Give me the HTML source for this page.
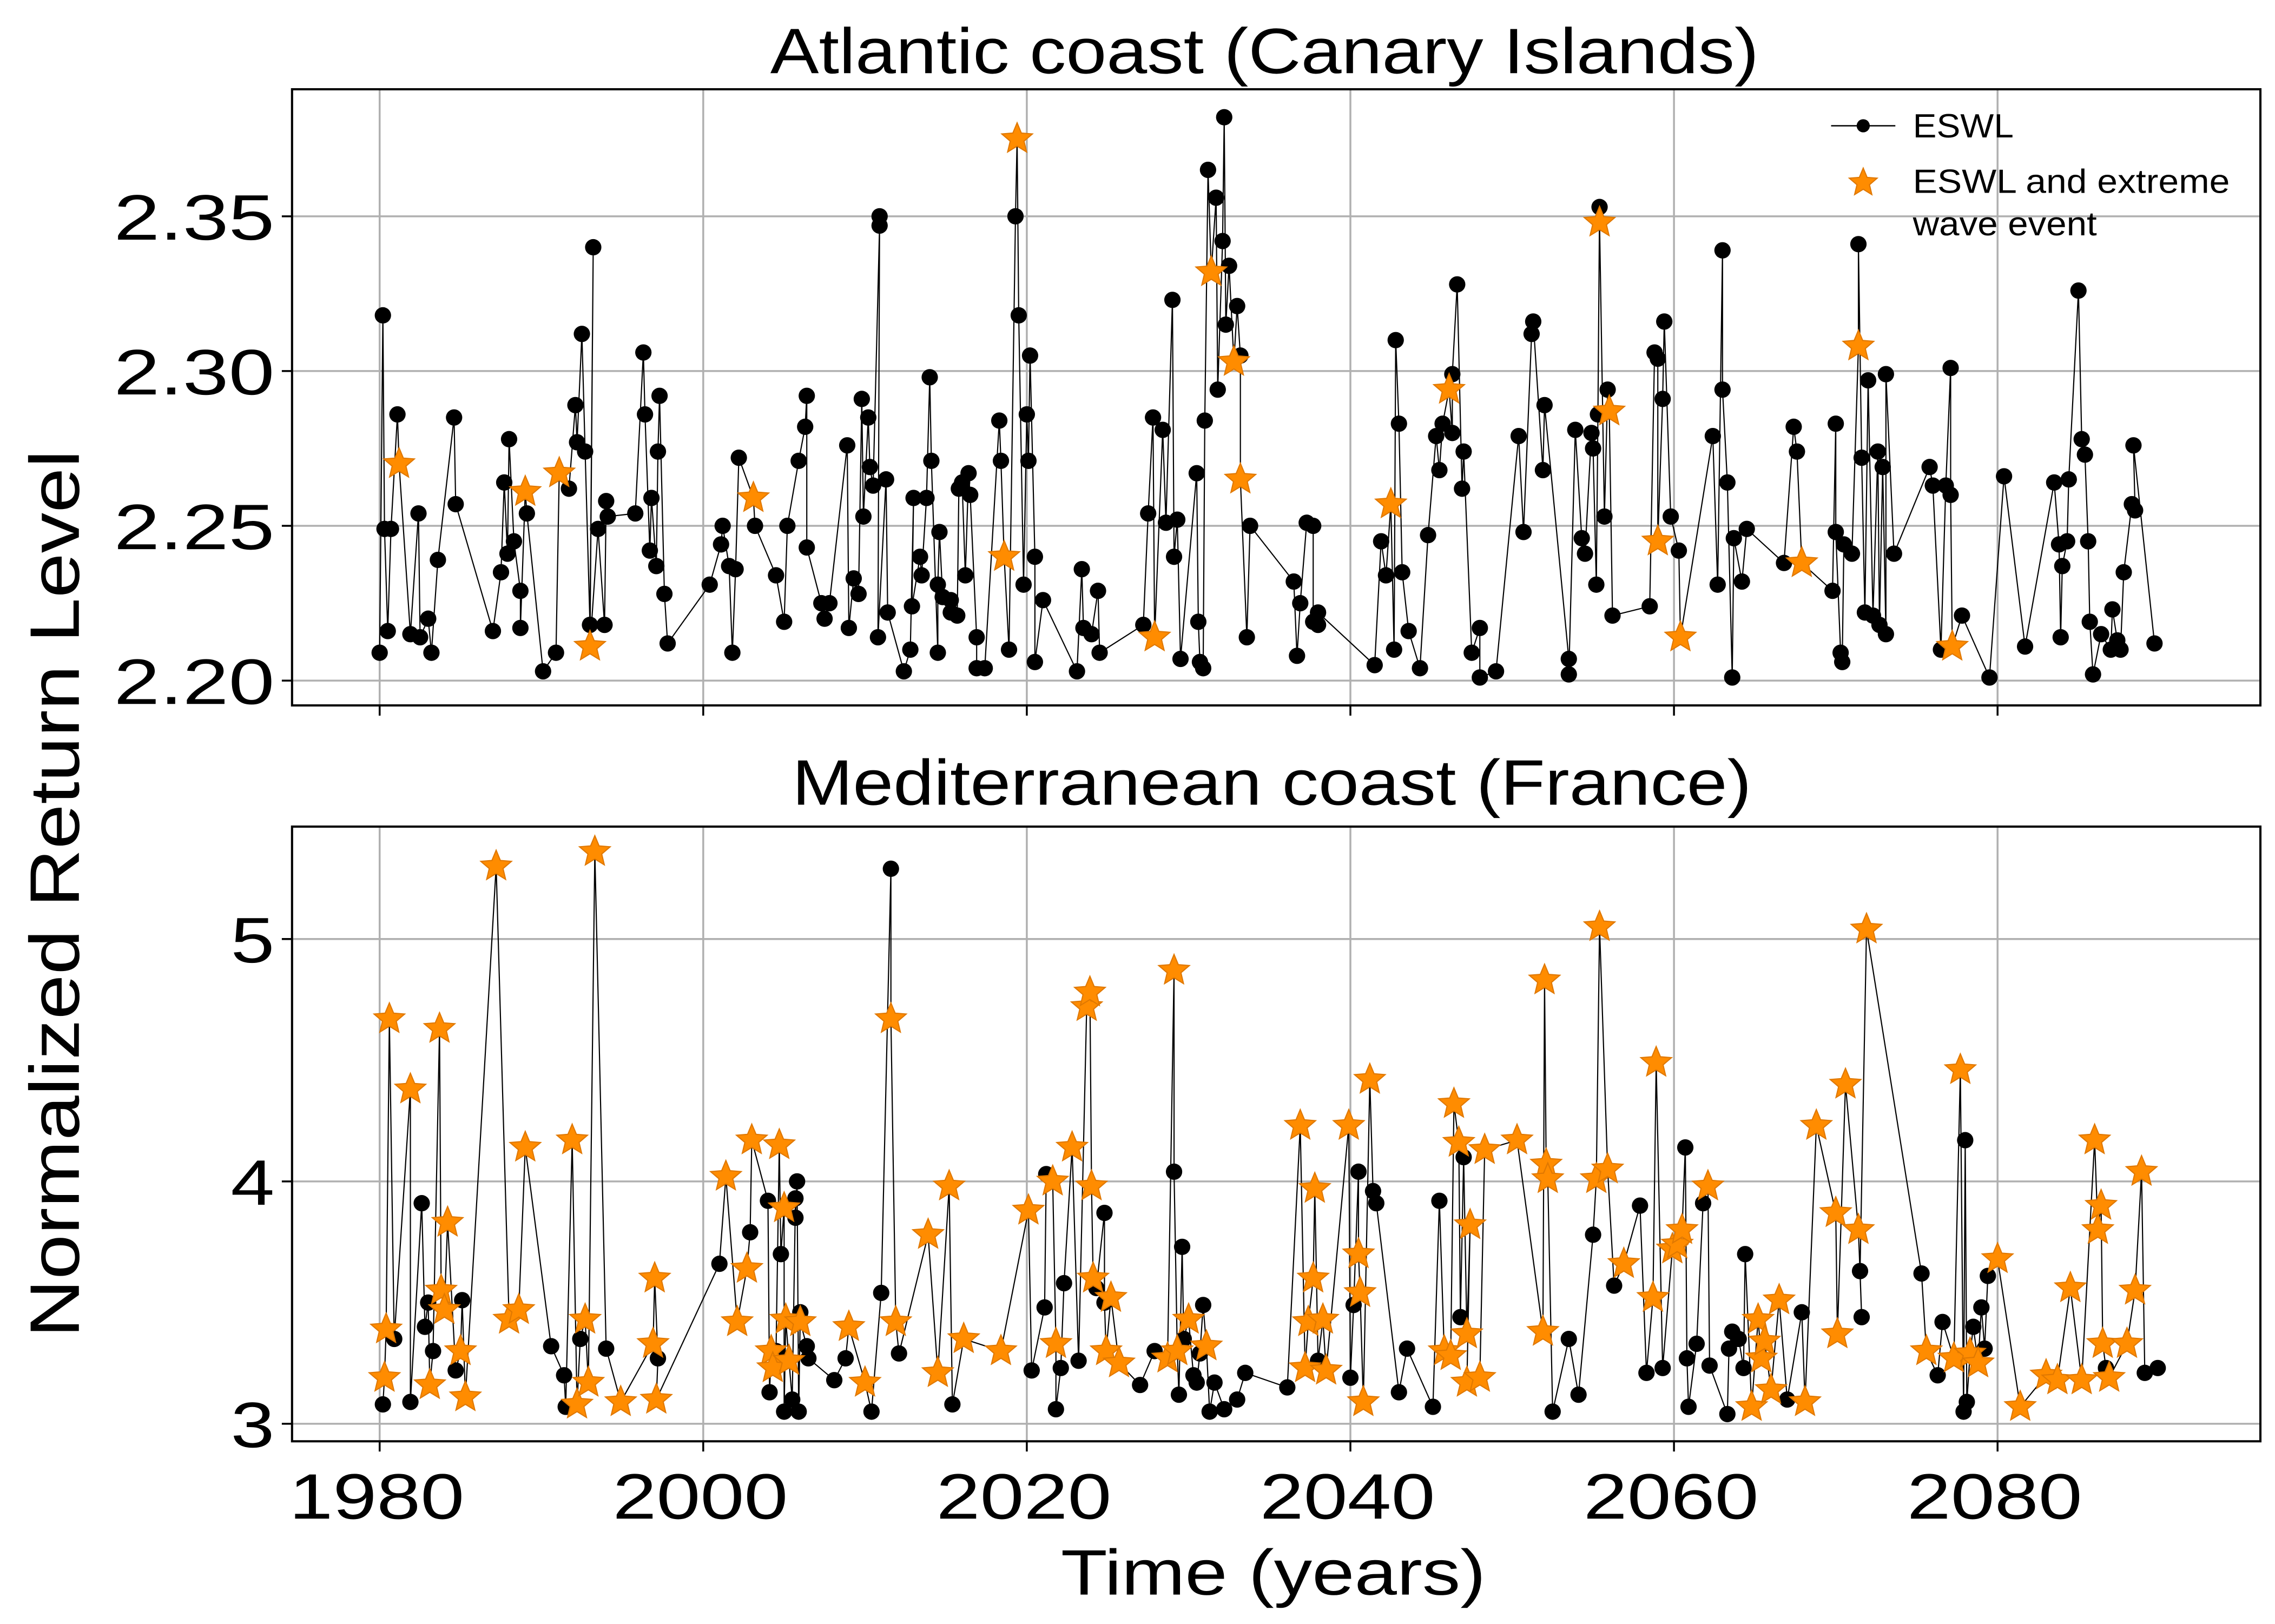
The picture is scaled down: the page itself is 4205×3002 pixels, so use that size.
<!DOCTYPE html>
<html><head><meta charset="utf-8"><style>
html,body{margin:0;padding:0;background:#fff}
svg{display:block}
text{font-family:"Liberation Sans",sans-serif;fill:#000}
</style></head><body>
<svg id="chart" width="4205" height="3002" viewBox="0 0 1558 1112" xmlns="http://www.w3.org/2000/svg">
<rect width="1558" height="1112" fill="#fff"/>
<g id="top"></g>
<g id="bot"></g>
<text x="866" y="50" font-size="44" text-anchor="middle" textLength="677" lengthAdjust="spacingAndGlyphs">Atlantic coast (Canary Islands)</text>
<text x="871" y="551" font-size="44" text-anchor="middle" textLength="657" lengthAdjust="spacingAndGlyphs">Mediterranean coast (France)</text>
<text x="872" y="1092" font-size="44" text-anchor="middle" textLength="291" lengthAdjust="spacingAndGlyphs">Time (years)</text>
<text transform="translate(54,612) rotate(-90)" font-size="48" text-anchor="middle" textLength="608" lengthAdjust="spacingAndGlyphs">Normalized Return Level</text>
<g>
<line x1="1254" y1="86" x2="1298" y2="86" stroke="#000" stroke-width="0.9"/>
<circle cx="1276" cy="86" r="4.5" fill="#000"/>
<text x="1310" y="94" font-size="23" textLength="69" lengthAdjust="spacingAndGlyphs">ESWL</text>
<polygon id="legstar" fill="#FF8C00" stroke="#E07800" stroke-width="0.8"/>
<text x="1310" y="132" font-size="23" textLength="217" lengthAdjust="spacingAndGlyphs">ESWL and extreme</text>
<text x="1310" y="161" font-size="23" textLength="126" lengthAdjust="spacingAndGlyphs">wave event</text>
</g>
</svg>
<script>
const topYears=[1980.0,1980.2,1980.3,1980.5,1980.7,1981.1,1981.2,1981.9,1982.4,1982.5,1983.0,1983.2,1983.6,1984.6,1984.7,1987.0,1987.5,1987.7,1987.9,1988.0,1988.3,1988.7,1988.7,1989.0,1989.1,1990.1,1990.9,1991.1,1991.7,1992.1,1992.2,1992.5,1992.7,1993.0,1993.2,1993.0,1993.5,1993.9,1994.0,1994.1,1995.8,1996.3,1996.4,1996.7,1996.8,1997.1,1997.2,1997.3,1997.6,1997.8,2000.4,2001.1,2001.2,2001.6,2001.8,2002.0,2002.2,2003.1,2003.2,2004.5,2005.0,2005.2,2005.9,2006.3,2006.4,2006.4,2007.3,2007.5,2007.8,2008.9,2009.0,2009.3,2009.6,2009.8,2009.9,2010.2,2010.3,2010.5,2010.9,2010.9,2010.8,2011.3,2011.4,2012.4,2012.8,2013.0,2012.9,2013.4,2013.5,2013.8,2014.0,2014.1,2014.5,2014.5,2014.6,2014.8,2015.3,2015.3,2015.7,2015.8,2016.0,2016.2,2016.4,2016.5,2016.9,2016.9,2017.4,2018.3,2018.4,2018.6,2018.9,2019.3,2019.4,2019.5,2019.8,2020.0,2020.1,2020.2,2020.5,2020.5,2021.0,2023.1,2023.4,2023.5,2024.0,2024.4,2024.5,2027.2,2027.5,2027.8,2027.9,2028.4,2028.6,2029.0,2029.1,2029.3,2029.5,2030.5,2030.6,2030.7,2030.9,2031.0,2031.2,2031.4,2031.7,2031.8,2032.1,2032.2,2032.3,2032.5,2032.8,2033.0,2033.2,2033.2,2033.6,2033.8,2036.5,2036.7,2036.9,2037.3,2037.7,2037.7,2038.0,2038.0,2041.5,2041.9,2042.2,2042.5,2042.7,2042.8,2043.0,2043.2,2043.6,2044.3,2044.8,2045.3,2045.5,2045.7,2046.1,2046.3,2046.3,2046.6,2046.9,2047.0,2047.5,2048.0,2048.0,2049.0,2050.4,2050.7,2051.2,2051.3,2051.9,2052.0,2053.5,2053.5,2053.9,2054.3,2054.5,2054.9,2055.0,2055.2,2055.3,2055.4,2055.4,2055.7,2055.9,2056.0,2056.2,2058.5,2058.8,2059.0,2059.0,2059.3,2059.4,2059.8,2060.3,2060.4,2062.4,2062.7,2063.0,2063.0,2063.3,2063.6,2063.7,2064.2,2064.5,2066.8,2067.4,2067.6,2067.9,2069.8,2070.0,2070.0,2070.3,2070.4,2070.5,2071.0,2071.4,2071.4,2071.6,2071.8,2072.0,2072.3,2072.6,2072.7,2072.9,2073.1,2073.1,2073.6,2075.8,2076.0,2076.5,2076.8,2077.1,2077.1,2077.2,2077.8,2079.5,2080.4,2081.7,2083.5,2083.8,2083.9,2084.0,2084.3,2084.4,2085.0,2085.2,2085.4,2085.6,2085.7,2085.9,2086.4,2087.0,2087.1,2087.4,2087.6,2087.8,2088.3,2088.5,2088.4,2089.7];
const topValues=[2.209,2.318,2.249,2.216,2.249,2.286,2.270,2.215,2.254,2.214,2.220,2.209,2.239,2.285,2.257,2.216,2.235,2.264,2.241,2.278,2.245,2.229,2.217,2.261,2.254,2.203,2.209,2.267,2.262,2.289,2.277,2.312,2.274,2.218,2.340,2.211,2.249,2.218,2.258,2.253,2.254,2.306,2.286,2.242,2.259,2.237,2.274,2.292,2.228,2.212,2.231,2.244,2.250,2.237,2.209,2.236,2.272,2.259,2.250,2.234,2.219,2.250,2.271,2.282,2.292,2.243,2.225,2.220,2.225,2.276,2.217,2.233,2.228,2.291,2.253,2.285,2.269,2.263,2.347,2.350,2.214,2.265,2.222,2.203,2.210,2.259,2.224,2.240,2.234,2.259,2.298,2.271,2.209,2.231,2.248,2.227,2.226,2.222,2.221,2.262,2.264,2.234,2.267,2.260,2.214,2.204,2.204,2.284,2.271,2.240,2.210,2.350,2.375,2.318,2.231,2.286,2.271,2.305,2.240,2.206,2.226,2.203,2.236,2.217,2.215,2.229,2.209,2.218,2.254,2.285,2.214,2.281,2.251,2.323,2.240,2.252,2.207,2.267,2.219,2.206,2.204,2.284,2.365,2.332,2.356,2.294,2.342,2.382,2.315,2.334,2.303,2.321,2.305,2.265,2.214,2.250,2.232,2.208,2.225,2.251,2.250,2.219,2.218,2.222,2.205,2.245,2.234,2.257,2.210,2.310,2.283,2.235,2.216,2.204,2.247,2.279,2.268,2.283,2.294,2.280,2.299,2.328,2.262,2.274,2.209,2.217,2.201,2.203,2.279,2.248,2.312,2.316,2.268,2.289,2.207,2.202,2.281,2.246,2.241,2.280,2.275,2.231,2.286,2.353,2.348,2.253,2.294,2.287,2.221,2.224,2.306,2.304,2.245,2.291,2.316,2.253,2.242,2.214,2.279,2.231,2.339,2.294,2.264,2.201,2.246,2.232,2.249,2.238,2.282,2.274,2.238,2.229,2.283,2.248,2.209,2.206,2.244,2.241,2.308,2.341,2.272,2.222,2.297,2.221,2.274,2.218,2.269,2.215,2.299,2.241,2.269,2.263,2.210,2.263,2.301,2.260,2.211,2.221,2.201,2.266,2.211,2.264,2.244,2.214,2.237,2.245,2.265,2.326,2.278,2.273,2.245,2.219,2.202,2.215,2.210,2.223,2.213,2.210,2.235,2.257,2.255,2.276,2.212];
const topStarIdx=[6,23,27,35,57,109,112,130,143,150,153,167,178,204,207,212,217,230,238,256];

const botYears=[1980.2,1980.3,1980.4,1980.6,1980.9,1981.9,1981.9,1982.6,1982.8,1983.0,1983.1,1983.3,1983.7,1983.8,1984.0,1984.2,1984.7,1985.0,1985.1,1985.3,1987.2,1988.0,1988.6,1989.0,1990.6,1991.4,1991.5,1991.9,1992.2,1992.4,1992.7,1992.9,1993.3,1994.0,1994.9,1996.9,1997.0,1997.2,1997.1,2001.0,2001.4,2002.1,2002.7,2002.9,2003.0,2004.0,2004.1,2004.2,2004.3,2004.5,2004.7,2004.8,2005.0,2005.0,2005.1,2005.3,2005.5,2005.7,2005.7,2005.8,2005.9,2006.0,2006.0,2006.4,2006.5,2008.1,2008.8,2009.0,2010.0,2010.4,2011.0,2011.6,2011.6,2011.9,2012.1,2013.9,2014.5,2015.2,2015.4,2016.1,2018.4,2020.1,2020.3,2021.1,2021.2,2021.6,2021.8,2021.8,2022.1,2022.3,2022.8,2023.2,2023.7,2023.9,2024.0,2024.1,2024.3,2024.8,2024.8,2024.9,2025.2,2025.7,2027.0,2027.9,2028.7,2029.1,2029.1,2029.3,2029.4,2029.6,2029.7,2030.0,2030.3,2030.5,2030.7,2030.9,2031.1,2031.3,2031.6,2032.2,2033.0,2033.5,2036.1,2036.9,2037.2,2037.4,2037.7,2037.8,2038.0,2038.3,2038.5,2039.9,2040.0,2040.2,2040.5,2040.5,2040.6,2040.8,2041.2,2041.4,2041.6,2043.0,2043.5,2045.1,2045.5,2045.8,2046.2,2046.4,2046.7,2046.8,2047.0,2047.2,2047.4,2047.2,2048.0,2048.3,2050.3,2051.9,2052.0,2052.1,2052.2,2052.5,2053.5,2054.1,2055.0,2055.2,2055.4,2055.9,2056.3,2056.9,2057.9,2058.3,2058.7,2058.9,2059.3,2059.9,2060.2,2060.5,2060.7,2060.8,2060.9,2061.4,2061.8,2062.1,2062.2,2063.3,2063.4,2063.6,2064.0,2064.3,2064.4,2064.8,2065.2,2065.4,2065.6,2066.0,2066.5,2067.0,2067.9,2068.1,2068.8,2070.0,2070.1,2070.6,2071.4,2071.6,2071.5,2071.9,2075.3,2075.6,2076.3,2076.6,2077.3,2077.7,2077.9,2078.0,2078.1,2078.3,2078.5,2078.8,2079.0,2079.2,2079.4,2080.0,2081.4,2083.0,2083.7,2084.5,2085.2,2086.0,2086.2,2086.4,2086.5,2086.7,2086.9,2088.0,2088.5,2088.9,2089.1,2089.9];
const botValues=[3.08,3.19,3.39,4.67,3.35,4.38,3.09,3.91,3.40,3.50,3.16,3.30,4.63,3.55,3.47,3.83,3.22,3.30,3.51,3.11,5.30,3.43,3.47,4.14,3.32,3.20,3.07,4.17,3.08,3.35,3.43,3.17,5.36,3.31,3.09,3.33,3.60,3.27,3.10,3.66,4.02,3.42,3.64,3.79,4.17,3.92,3.13,3.30,3.23,3.30,4.15,3.70,3.89,3.05,3.43,3.26,3.10,3.93,3.85,4.00,3.05,3.46,3.42,3.32,3.27,3.18,3.27,3.40,3.17,3.05,3.54,5.29,4.67,3.42,3.29,3.78,3.21,3.98,3.08,3.35,3.30,3.88,3.22,3.48,4.03,4.00,3.33,3.06,3.23,3.58,4.14,3.26,4.72,4.78,3.98,3.60,3.56,3.87,3.50,3.30,3.52,3.25,3.16,3.30,3.27,4.87,4.04,3.30,3.12,3.73,3.35,3.43,3.20,3.17,3.29,3.49,3.32,3.05,3.17,3.06,3.10,3.21,3.15,4.23,3.23,3.42,3.60,3.97,3.26,3.43,3.22,4.23,3.19,3.49,4.04,3.70,3.54,3.09,4.42,3.96,3.91,3.13,3.31,3.07,3.92,3.30,3.28,4.32,4.16,3.44,4.10,3.37,3.82,3.17,3.19,4.13,4.17,3.38,4.83,4.07,4.01,3.05,3.35,3.12,3.78,4.01,5.05,4.05,3.57,3.66,3.90,3.21,3.52,4.49,3.23,3.72,3.74,3.80,4.14,3.27,3.07,3.33,3.91,3.98,3.24,3.04,3.31,3.38,3.35,3.23,3.70,3.07,3.43,3.27,3.34,3.14,3.51,3.10,3.46,3.09,4.23,3.87,3.37,4.40,3.80,3.44,3.63,5.04,3.62,3.30,3.20,3.42,3.27,4.46,3.05,4.17,3.09,3.29,3.40,3.25,3.48,3.31,3.61,3.68,3.07,3.20,3.18,3.56,3.18,4.17,3.80,3.90,3.33,3.23,3.19,3.33,3.55,4.04,3.21,3.23];
const botStar=[0,1,1,1,0,1,0,0,0,0,1,0,1,1,1,1,0,1,0,1,1,1,1,1,0,0,0,1,1,0,1,1,1,0,1,1,1,0,1,
0,1,1,1,0,1,0,0,1,1,
0,1,0,1,0,1,1,0,0,0,
0,0,0,1,0,0,0,0,1,1,
0,0,0,1,1,0,1,1,1,0,
1,1,1,0,0,0,1,1,0,0,
0,1,0,1,1,1,1,0,0,0,
1,1,1,0,0,1,1,0,1,0,
0,0,1,0,0,0,0,1,0,0,
0,0,0,0,1,1,1,1,1,0,
1,1,1,0,0,0,1,1,1,1,
0,0,0,0,0,0,1,1,1,1,
0,0,1,1,1,1,1,1,1,1,
1,1,0,0,0,0,1,1,1,0,
1,0,0,1,1,0,1,1,1,0,
0,0,0,0,1,0,0,0,0,0,
0,0,1,1,1,1,1,1,0,0,
1,1,1,1,1,1,0,0,1,0,
1,0,0,1,1,0,0,0,1,0,
1,0,0,0,1,1,1,1,1,1,
1,1,1,1,0,1,1,1,1,0,0];

const xTicks=[1980,2000,2020,2040,2060,2080];
const topYTicks=[2.20,2.25,2.30,2.35];
const topYLabels=["2.20","2.25","2.30","2.35"];
const botYTicks=[3,4,5];
const botYLabels=["3","4","5"];

const NS="http://www.w3.org/2000/svg";
const L=200,R=1548;
const xs=y=>260+(y-1980)*(221.6/20);
function mk(tag,attrs,parent){const e=document.createElementNS(NS,tag);for(const k in attrs)e.setAttribute(k,attrs[k]);parent.appendChild(e);return e;}
function starPts(cx,cy,ro){const ri=ro*0.45;let p=[];for(let i=0;i<10;i++){const a=-Math.PI/2+i*Math.PI/5;const r=i%2?ri:ro;p.push((cx+r*Math.cos(a)).toFixed(2)+","+(cy+r*Math.sin(a)).toFixed(2));}return p.join(" ");}
document.getElementById('legstar').setAttribute('points',starPts(1276,125,10));

function panel(g,top,bot,ys,yTicks,yLabels,years,vals,isStar,showX,nm){
  xTicks.forEach(t=>{const l=mk('line',{x1:xs(t),x2:xs(t),y1:top,y2:bot,stroke:'#b0b0b0','stroke-width':1.3},g);
    
    
    const tk=mk('line',{x1:xs(t),x2:xs(t),y1:bot,y2:bot+7,stroke:'#000','stroke-width':1.3},g);
    
    
    if(showX){const tx=mk('text',{x:xs(t)-2,y:1040,'font-size':44,'text-anchor':'middle',textLength:120,lengthAdjust:'spacingAndGlyphs'},g);tx.textContent=t;
      
      }
  });
  yTicks.forEach((t,i)=>{const y=ys(t);const l=mk('line',{x1:L,x2:R,y1:y,y2:y,stroke:'#b0b0b0','stroke-width':1.3},g);
    
    
    const tk=mk('line',{x1:L-7,x2:L,y1:y,y2:y,stroke:'#000','stroke-width':1.3},g);
    
    
    const s=yLabels[i];
    const tx=mk('text',{x:188,y:y+16,'font-size':44,'text-anchor':'end',textLength:s.length>1?110:30,lengthAdjust:'spacingAndGlyphs'},g);tx.textContent=s;
    
    
  });
  const pts=years.map((y,i)=>xs(y).toFixed(2)+","+ys(vals[i]).toFixed(2)).join(" ");
  const pl=mk('polyline',{points:pts,fill:'none',stroke:'#000','stroke-width':0.8},g);
  
  
  years.forEach((y,i)=>{if(!isStar(i)){const c=mk('circle',{cx:xs(y),cy:ys(vals[i]),r:5.6,fill:'#000'},g);
    
    }});
  years.forEach((y,i)=>{if(isStar(i)){const p=mk('polygon',{points:starPts(xs(y),ys(vals[i]),11),fill:'#FF8C00',stroke:'#E07800','stroke-width':0.8},g);
    
    }});
  const fr=mk('rect',{x:L,y:top,width:R-L,height:bot-top,fill:'none',stroke:'#000','stroke-width':1.5},g);
  
  
}
const topYS=v=>466-(v-2.20)*(106/0.05);
const botYS=v=>975-(v-3)*166;
panel(document.getElementById('top'),61,483,topYS,topYTicks,topYLabels,topYears,topValues,i=>topStarIdx.includes(i),false,'atlantic');
panel(document.getElementById('bot'),566,987,botYS,botYTicks,botYLabels,botYears,botValues,i=>botStar[i]===1,true,'mediterranean');
</script>
</body></html>
